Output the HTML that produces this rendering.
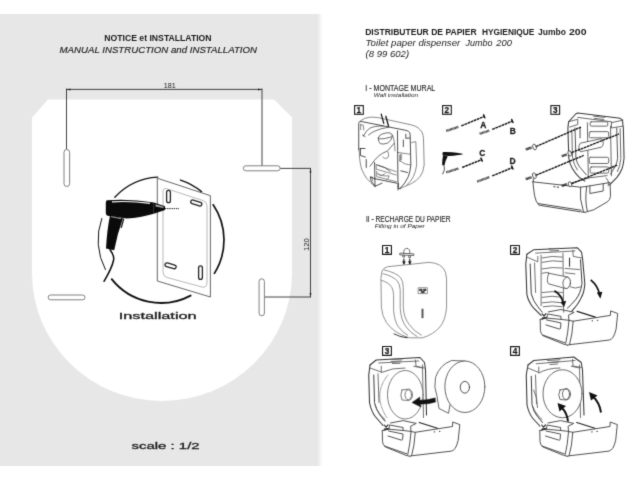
<!DOCTYPE html>
<html><head><meta charset="utf-8">
<style>
html,body{margin:0;padding:0;background:#fff;width:640px;height:480px;overflow:hidden}
svg{display:block;position:absolute;left:0;top:0}
text{font-family:"Liberation Sans",sans-serif;fill:#1a1a1a}
</style></head><body>
<svg width="640" height="480" viewBox="0 0 640 480">
<defs><g id="tray" fill="none" stroke-linecap="round" stroke-linejoin="round">
<g stroke="#484848" stroke-width="0.95">
<path d="M382.3,430.5 L382.5,441.7 Q383,445 385.3,446.9 L405.9,455.3 L409.7,456.25" fill="#fff"/>
<path d="M384.4,446 L406.9,453.9"/>
<path d="M382.3,430.5 L389,429.2 L403.1,430.5 L411.1,431.4"/>
<path d="M411.1,431.4 Q410,445 407.8,454.4 M415.3,432.3 Q414.5,446 411.6,455.8"/>
<path d="M411,431.5 L415.3,432.3 L452.5,426.5 L452.7,422 L459.8,424.6 L458.2,440.2 Q457,445.5 455.1,448.5 Q453.5,450.3 451.5,451.1 L411.6,455.8 L409.7,456.25"/>
<path d="M388.5,431 L403,434 L402.6,439.6 Q402.3,440.4 401,440 L388,436"/>
<path d="M390.5,423 L403.1,420.6 L416.25,423.4 L410.6,426.25 L411,431"/>
<path d="M389,429.2 L389.5,425 L403.1,427.5 L403.1,430.5"/>
</g>
<path d="M419.2,422.5 L437.4,428.2" stroke="#222" stroke-width="1.2"/>
<path d="M384.2,425 L387.5,428.8 M385,428.5 L388,424.8 M384,430 L388.5,428.6" stroke="#222" stroke-width="1.1"/>
<path d="M433.8,431.9 h1.3 M439,431.4 h1.3" stroke="#111" stroke-width="0.9" stroke-linecap="butt"/>
</g><filter id="sf" x="-2%" y="-2%" width="104%" height="104%" color-interpolation-filters="sRGB"><feConvolveMatrix order="3" kernelMatrix="1 6 1 6 36 6 1 6 1" divisor="64" edgeMode="duplicate" preserveAlpha="false"/></filter><linearGradient id="ge" x1="0" x2="1" y1="0" y2="0"><stop offset="0" stop-color="#e7e7e7"/><stop offset="1" stop-color="#ffffff"/></linearGradient><filter id="bl" x="-5%" y="-5%" width="110%" height="110%"><feGaussianBlur stdDeviation="0.9"/></filter></defs>
<!-- LEFT PANEL -->
<g id="left" filter="url(#sf)">
<rect x="-6" y="14" width="324" height="452" fill="#e7e7e7"/><rect x="317.5" y="14" width="5" height="452" fill="url(#ge)"/>
<path d="M48,99.5 L274,99.5 L292,117.5 L292,273 A130,128 0 0 1 32,273 L32,117.5 Z" fill="#fff"/>
<!-- text -->
<text x="104.3" y="41.4" font-size="8.6" font-weight="bold" textLength="107.3" lengthAdjust="spacingAndGlyphs">NOTICE et INSTALLATION</text>
<text x="59.5" y="52.6" font-size="9.1" font-style="italic" stroke="#1a1a1a" stroke-width="0.15" textLength="197.5" lengthAdjust="spacingAndGlyphs">MANUAL INSTRUCTION and INSTALLATION</text>

<!-- dimension lines -->
<g stroke="#2e2e2e" stroke-width="0.9" fill="none">
<path d="M66.5,88.5 V149"/><path d="M262,88.5 V166"/><path d="M66.5,89.4 H262"/>
<path d="M280,168.4 H311"/><path d="M264.5,297 H311"/><path d="M310.5,168.4 V297"/>
</g>
<g fill="#222"><path d="M66.5,89.4 l4,-1 v2z"/><path d="M262,89.4 l-4,-1 v2z"/><path d="M310.5,168.4 l-1,4 h2z"/><path d="M310.5,297 l-1,-4 h2z"/></g>
<text x="163.7" y="88" font-size="6.8" textLength="12" lengthAdjust="spacingAndGlyphs" fill="#222">181</text>
<text transform="translate(309,251) rotate(-90)" font-size="6.8" textLength="12.8" lengthAdjust="spacingAndGlyphs" fill="#222">120</text>
<!-- slots -->
<g stroke="#707070" stroke-width="0.9" fill="#fff">
<rect x="64" y="149.5" width="5.6" height="37" rx="2.8"/>
<rect x="243.3" y="165.8" width="36.8" height="5" rx="2.5"/>
<rect x="48.2" y="295" width="36.8" height="4.8" rx="2.4"/>
<rect x="259.1" y="278.8" width="5.3" height="37" rx="2.65"/>
</g>
<!-- installation pictogram -->
<g id="picto">
<path d="M105.4,269.6 A63,63 0 0 1 101.8,218.5" stroke="#111" stroke-width="1.0" fill="none" stroke-linecap="round"/>
<path d="M190.6,295.6 A63,63 0 0 1 111.7,279.2" stroke="#111" stroke-width="1.9" fill="none" stroke-linecap="round"/>
<path d="M114.8,197.2 A63,63 0 0 1 157.7,177.1" stroke="#111" stroke-width="1.3" fill="none" stroke-linecap="round"/>
<path d="M180.5,180.1 A63,63 0 0 1 201.5,191.7" stroke="#111" stroke-width="1.5" fill="none" stroke-linecap="round"/>
<path d="M213.2,204.8 A63,63 0 0 1 214.4,273.4" stroke="#111" stroke-width="1.7" fill="none" stroke-linecap="round"/>
<!-- plate -->
<path d="M157.3,178.2 L210.4,195.7 L210.4,297 L157.3,281 Z" fill="#fff" stroke="#555" stroke-width="0.9"/>
<path d="M167,188.8 L203,200.6 Q207,202 207,206 L207,282 Q207,288.5 202,287 L167,277.5 Q163,276.3 163,272 L163,191.5 Q163,187.5 167,188.8 Z" fill="none" stroke="#9a9a9a" stroke-width="0.7"/>
<g fill="#fff" stroke="#222" stroke-width="1.3">
<rect x="166.6" y="190.4" width="3.8" height="12.2" rx="1.9"/>
<rect x="198.6" y="265.8" width="3.8" height="13.6" rx="1.9"/>
<rect x="-5.7" y="-1.9" width="11.4" height="3.8" rx="1.9" transform="translate(196.3,203) rotate(18)"/>
<rect x="-5.7" y="-1.9" width="11.4" height="3.8" rx="1.9" transform="translate(170.6,265.8) rotate(16)"/>
</g>
<!-- drill -->
<path d="M107,200.2 Q106,200 105.8,203 L105.8,213 Q106,215.8 109,216 L127,218.4 Q140,218 153.8,213.8 L153.8,202.5 Q130,198.5 107,200.2 Z" fill="#0a0a0a"/>
<path d="M110,215.5 L123,218.2 Q117.5,233 114.2,250.3 L106,248.4 Q107,230 110,215.5 Z" fill="#0a0a0a"/>
<path d="M123.8,218.6 L121.2,227.8" stroke="#0a0a0a" stroke-width="1.2" fill="none"/>
<path d="M153.8,202.5 L165,206.3 L165,210 L153.8,213.8 Z" fill="#0a0a0a"/>
<path d="M155.5,204.3 L163.5,206.8 L163.5,208 L155.5,206.6 Z" fill="#aaa"/>
<path d="M112,201.9 Q130,200.7 150,203.4" stroke="#fff" stroke-width="1.1" fill="none"/>
<path d="M111,216.6 L121,218.7" stroke="#fff" stroke-width="0.6" fill="none"/>
<path d="M165,208.6 H179" stroke="#111" stroke-width="1" stroke-dasharray="1.3,0.9" fill="none"/>
<path d="M110,249.5 Q114.5,256 113.6,260 Q112,268 104,281.3" stroke="#0a0a0a" stroke-width="1.5" fill="none" stroke-linecap="round"/>
</g>
<text x="118.7" y="319.3" font-size="9.8" textLength="78" lengthAdjust="spacingAndGlyphs" fill="#1a1a1a" stroke="#1a1a1a" stroke-width="0.3">Installation</text>
<text x="131.6" y="448.7" font-size="9.8" textLength="68" lengthAdjust="spacingAndGlyphs" fill="#1a1a1a" stroke="#1a1a1a" stroke-width="0.3">scale : 1/2</text>
</g>
<!-- RIGHT PANEL -->
<g id="right" filter="url(#sf)">
<g font-size="9.3" font-weight="bold" lengthAdjust="spacingAndGlyphs">
<text x="365.2" y="34.6" textLength="111.4" lengthAdjust="spacingAndGlyphs">DISTRIBUTEUR DE PAPIER</text>
<text x="481.9" y="34.6" textLength="52.5" lengthAdjust="spacingAndGlyphs">HYGIENIQUE</text>
<text x="538" y="34.6" textLength="27.9" lengthAdjust="spacingAndGlyphs">Jumbo</text>
<text x="569" y="34.6" textLength="17.5" lengthAdjust="spacingAndGlyphs">200</text>
</g>
<g font-size="9.8" font-style="italic">
<text x="365.6" y="45.9" textLength="94.7" lengthAdjust="spacingAndGlyphs">Toilet paper dispenser</text>
<text x="465.6" y="45.9" textLength="27" lengthAdjust="spacingAndGlyphs">Jumbo</text>
<text x="496.3" y="45.9" textLength="15.6" lengthAdjust="spacingAndGlyphs">200</text>
</g>
<text x="365.6" y="57" font-size="9.8" font-style="italic" textLength="43.5" lengthAdjust="spacingAndGlyphs">(8 99 602)</text>
<text x="365.3" y="90.7" font-size="8.5" stroke="#1a1a1a" stroke-width="0.12" textLength="70" lengthAdjust="spacingAndGlyphs">I - MONTAGE MURAL</text>
<text x="373.7" y="96.7" font-size="5.7" font-style="italic" textLength="44.5" lengthAdjust="spacingAndGlyphs">Wall installation</text>

<!-- boxes with numbers -->
<g id="boxes" fill="#fff" stroke="#1a1a1a" stroke-width="1.1">
<rect x="354.6" y="105.6" width="8.7" height="8.7"/>
<rect x="442.6" y="105.6" width="8.7" height="8.7"/>
</g>
<g font-size="8.2" font-weight="bold" fill="#111" stroke="#111" stroke-width="0.25" text-anchor="middle">
<text x="358.9" y="112.85">1</text><text x="446.9" y="112.85">2</text>
</g>
<!-- FIG I-1 : zoom12 coords, origin (350,110) -->
<g id="fig11" transform="translate(350,110) scale(0.083333)" fill="none" stroke-linecap="round" stroke-linejoin="round">
<g stroke="#606060" stroke-width="9">
<path d="M130,125 Q170,92 250,85 L330,90 L740,180 Q830,200 868,275 Q880,310 882,340 L890,660 Q880,750 840,800 Q800,850 740,882 L600,942"/>
<path d="M110,480 L115,580 Q122,650 140,710 Q165,770 200,820 Q240,865 300,920"/>
<path d="M128,170 L128,235 M130,178 L160,182 L165,240"/>
<path d="M740,390 L790,380 L800,660 Q790,740 760,800 Q730,860 680,902"/>
<path d="M510,300 Q535,350 540,490"/>
<path d="M395,565 Q430,600 460,565 Q470,530 455,500"/>
<path d="M315,655 L555,740 M315,655 L315,710 L555,780 M320,735 L320,800 L555,860"/>
<path d="M330,760 Q380,800 470,790 Q460,830 440,840 M340,770 L370,790 L420,765"/>
<path d="M262,800 L272,850 M576,510 L720,530"/>
<path d="M600,610 Q660,660 724,660"/>
</g>
<path d="M615,520 L615,600" stroke="#aaa" stroke-width="22" stroke-linecap="butt"/>
<g stroke="#2a2a2a" stroke-width="10">
<path d="M105,480 L105,165 Q105,145 120,135 L670,244 Q705,252 716,270 L722,300 L730,660 Q722,740 700,800 Q665,880 600,942"/>
<path d="M670,290 L670,340 L716,336"/>
<path d="M640,360 L640,440 M600,540 L600,612 M610,730 L690,750 M580,880 L580,940 L604,944"/>
<path d="M570,250 L576,960"/>
<path d="M120,462 L180,462 M125,462 L125,545 L185,565 M195,595 L195,690"/>
<path d="M300,825 L560,878"/>
<path d="M295,630 L300,915"/>
<path d="M245,805 L300,825 M245,805 L252,850 L300,915 L385,878"/>
</g>
<g stroke="#222" stroke-width="8">
<path d="M160,312 Q190,250 235,220 Q290,190 400,192"/>
<path d="M222,300 Q260,270 300,252 Q360,222 470,205"/>
<path d="M150,300 L182,320"/>
<path d="M340,335 Q350,300 385,288 Q440,268 480,275 Q512,285 508,320 Q500,365 450,398 Q400,415 365,405 Q335,385 340,335 Z"/>
<path d="M352,348 Q420,350 500,322"/>
<path d="M460,480 L530,400"/>
<path d="M450,490 Q380,520 340,555 Q290,600 240,675"/>
<path d="M335,662 Q420,680 485,738"/>
</g>
<g stroke="#111" stroke-width="15">
<path d="M375,50 L405,160 M430,75 L462,192"/>
</g>
</g>
<!-- FIG I-2 : region (435,100) scale 5.333 -->
<g id="fig12" transform="translate(435,100) scale(0.1875)" fill="none">
<g stroke="#3a3a3a" stroke-width="12.5" stroke-dasharray="5,2">
<path d="M60,165 L126,143"/><path d="M238,180 L291,163"/><path d="M60,386 L126,365"/><path d="M225,435 L291,411"/>
</g>
<g stroke="#111" stroke-width="7.5" stroke-dasharray="15,3">
<path d="M140,138 L262,88"/><path d="M305,157 L412,113"/><path d="M145,360 L248,319"/><path d="M305,405 L412,361"/>
</g>
<g stroke="#111" stroke-width="8" stroke-linecap="round">
<path d="M259,79 L266,95"/><path d="M409,104 L416,120"/><path d="M245,310 L252,326"/><path d="M409,352 L416,368"/>
</g>
<g font-size="45" font-weight="bold" fill="#1a1a1a" stroke="#1a1a1a" stroke-width="1.4" text-anchor="middle" style="font-family:'Liberation Sans',sans-serif">
<text x="258" y="147">A</text><text x="415" y="180">B</text><text x="252" y="297">C</text><text x="414" y="342">D</text>
</g>
<!-- mini drill -->
<g fill="#111" stroke="none">
<path d="M44,277 Q40,278 40,284 L41,296 L75,298 Q100,298 116,295 L147,290 L147,287 L116,281 Q90,276 44,277 Z"/>
<path d="M43,295 L68,300 Q56,320 50,351 L38,347 Q38,320 43,295 Z"/>
</g>
<path d="M47,351 Q56,368 40,396" stroke="#111" stroke-width="4"/>
</g>

<!-- FIG I-3 : region (520,100) scale 4.3636 -->
<g fill="#fff" stroke="#1a1a1a" stroke-width="1.1"><rect x="550.9" y="105.6" width="8.7" height="8.7"/></g>
<text x="555.2" y="112.85" font-size="8.2" font-weight="bold" fill="#111" stroke="#111" stroke-width="0.25" text-anchor="middle">3</text>
<g id="fig13" transform="translate(520,100) scale(0.22917)" fill="none" stroke-linecap="round" stroke-linejoin="round">
<g stroke="#5a5a5a" stroke-width="4">
<path stroke="#383838" stroke-width="4.6" d="M212,95 L244,60 L252,57 L437,80 L447,88 L449,107 L451,122 L454,254 Q452,280 445,300 Q436,322 422,339 L391,370"/>
<path stroke="#383838" stroke-width="4.6" d="M212,95 L209,122 L213,254 Q217,280 229,300 Q242,322 260,339 L283,354"/>
<path d="M212,95 L252,84 L252,107 L217,118 M252,76 L399,95 M399,99 L449,88 M399,99 L399,122 L449,114"/>
<path d="M294,99 L298,331 M395,114 L399,331"/>
<rect x="306" y="95" width="77" height="19" rx="5"/>
<rect x="302" y="138" width="85" height="27" rx="6"/>
<rect x="302" y="250" width="85" height="27" rx="6"/>
<rect x="306" y="292" width="81" height="27" rx="6"/>
<path stroke="#444" d="M240,122 L244,254 Q248,275 260,292 L290,327"/>
<path stroke="#444" d="M422,122 L426,254 Q424,275 414,292 L395,323"/>
<path d="M226,130 L229,250 Q234,282 250,305 M437,125 L440,255 Q437,290 425,312"/>
<path d="M262,190 Q250,208 264,226 L355,206 Q372,190 356,170 Z" fill="#fff"/>
<path d="M320,70 L370,76 M325,80 L365,85"/>
<path d="M375,340 Q390,350 385,375 M300,340 L380,330"/>
</g>
<g stroke="#484848" stroke-width="4.2">
<path d="M56,357 L63,415 Q68,445 83,459 L264,488 L284,490" fill="#fff"/>
<path d="M80,452 L267,481"/>
<path d="M56,357 L264,380.5 L291,377 L393,360 L395,421 Q393,437 380,445 L322,479 L294,487 L284,490"/>
<path d="M264,380.5 Q258,430 277,488 M291,377 Q282,440 294,486"/>
<path d="M305,374 L305,408 L363,397 L363,367"/>
<path d="M58,345 L58,357 M225,362 L300,340 M262,120 L262,165"/>
</g>
<g stroke="#111" stroke-width="6" stroke-dasharray="12,2.5" stroke-linecap="butt">
<path d="M70,203 L266,118"/><path d="M225,230 L432,148"/><path d="M70,328 L278,242"/><path d="M226,365 L424,284"/>
</g>
<g stroke="#222" stroke-width="11" stroke-dasharray="4,1.5" stroke-linecap="butt">
<path d="M25,215.5 L52,207.5"/><path d="M182,245 L205,238"/><path d="M25,345 L52,337"/><path d="M182,374.5 L205,367.5"/>
</g>
<g stroke="#3a3a3a" stroke-width="3.5" fill="#fff">
<ellipse cx="63.5" cy="205" rx="7.5" ry="13" transform="rotate(-18 63.5 205)"/>
<ellipse cx="62.7" cy="330.4" rx="7.5" ry="13" transform="rotate(-18 62.7 330.4)"/>
<ellipse cx="217" cy="233" rx="7.5" ry="12" transform="rotate(-18 217 233)"/>
<ellipse cx="218" cy="367.5" rx="7.5" ry="11" transform="rotate(-18 218 367.5)"/>
</g>
<path d="M148,378 L153,379 M163,380 L168,381" stroke="#111" stroke-width="4"/>
</g>

<!-- SECTION II -->
<text x="365.9" y="222" font-size="8.5" stroke="#1a1a1a" stroke-width="0.12" textLength="84.7" lengthAdjust="spacingAndGlyphs">II - RECHARGE DU PAPIER</text>
<text x="374.7" y="227.9" font-size="5.7" font-style="italic" textLength="50" lengthAdjust="spacingAndGlyphs">Filling in of Paper</text>
<!-- FIG II-1 : region (370,235) scale 4.5714 -->
<g id="fig21" transform="translate(370,235) scale(0.21875)" fill="none" stroke-linecap="round" stroke-linejoin="round">
<rect x="57.4" y="48.2" width="40.5" height="40.5" fill="#fff" stroke="#1a1a1a" stroke-width="5.2"/>
<g stroke="#808080" stroke-width="4">
<path d="M55,165 Q60,150 80,145 L270,125 Q330,128 345,170 L350,200 L350,330 Q345,390 320,420 Q290,455 240,470 L180,470 Q110,450 75,400 Q55,370 52,330 L50,200 Z"/>
<path d="M65,160 Q120,172 140,195 Q152,210 152,240 L152,330 Q155,380 180,410 Q200,440 235,458"/>
<path d="M60,177 Q105,188 125,210 Q137,225 138,250 L138,335 Q142,390 165,420 Q185,448 215,464"/>
<path d="M52,207 Q88,218 100,240 Q107,255 108,275 L108,345 Q112,395 130,420 Q148,445 172,458"/>
<rect x="222" y="241" width="40" height="27"/>
</g>
<g stroke="#333" stroke-width="4">
<path d="M228,248 h10 v6 h-10z M246,248 h10 v6 h-10z M236,258 h12 v5 h-12z" fill="#333"/>
</g>
<path d="M240,337 L240,380" stroke="#555" stroke-width="9" stroke-linecap="butt"/>
<g stroke="#444" stroke-width="3.6">
<path d="M154,84 Q152,62 168,61 Q184,62 182,84"/>
<path d="M138,83 L200,86 L200,94 L138,91 Z"/>
<path d="M150,92 L150,101 L158,101 L158,93 M177,94 L177,103 L185,103 L185,95"/>
</g>
<g stroke="#111" stroke-width="5" fill="#111">
<path d="M155,110 L155,128 M182,110 L182,128"/>
<path d="M149,122 L155,135 L161,122 Z M176,122 L182,135 L188,122 Z" stroke-width="2"/>
</g>
<path d="M110,452 Q140,468 170,470" stroke="#333" stroke-width="5"/>
</g>
<text x="387" y="252.9" font-size="8.2" font-weight="bold" fill="#111" stroke="#111" stroke-width="0.25" text-anchor="middle">1</text>

<!-- FIG II-2 : region (505,240) scale 4.5714 -->
<g id="fig22" transform="translate(505,240) scale(0.21875)" fill="none" stroke-linecap="round" stroke-linejoin="round">
<rect x="25.4" y="24.9" width="40.5" height="40.5" fill="#fff" stroke="#1a1a1a" stroke-width="5.2"/>
<g stroke="#5c5c5c" stroke-width="4">
<path stroke="#333" stroke-width="4.8" d="M100,65 L130,45 L330,35 L350,55 L355,90 L365,200 Q362,240 350,260 Q335,295 305,325"/>
<path stroke="#333" stroke-width="4.8" d="M100,65 L95,110 L100,250 Q108,285 130,310 L165,345"/>
<path d="M140,60 L320,50 M100,78 L150,100 L150,75 M310,47 L312,75 L350,82"/>
<path stroke="#3a3a3a" stroke-width="4.5" d="M115,110 L120,245 Q128,280 150,305 L170,330"/>
<path d="M165,70 L165,300 M265,60 L268,330 M135,105 L140,240"/>
<path d="M170,82 Q215,70 262,78 M170,102 Q215,90 262,98 M170,132 Q215,122 262,128 M170,152 Q190,146 200,150 M170,240 Q215,232 262,240 M170,262 Q215,252 262,262 M170,287 Q215,278 262,287 M175,305 Q215,297 262,305"/>
<path stroke="#3a3a3a" stroke-width="4.5" d="M345,90 L352,200 Q345,245 325,270 Q305,295 285,312"/>
<path d="M275,130 L340,135 M275,150 L320,155 M300,215 Q320,225 345,215"/>
<path d="M200,40 L250,38 M205,50 L245,48"/>
</g>
<g stroke="#555" stroke-width="4" fill="#fff">
<path d="M200,152 L290,170 Q302,185 298,205 Q292,222 278,222 L198,200 Q188,185 200,152 Z"/>
<ellipse cx="282" cy="196" rx="17" ry="26" transform="rotate(8 282 196)"/>
</g>
<g stroke="#333" stroke-width="5"><path d="M295,82 L295,120"/></g>

<g stroke="#111" stroke-width="8" stroke-linecap="butt">
<path d="M392,182 Q425,210 432,248"/>
<path d="M226,232 Q262,255 266,290"/>
</g>
<g fill="#111" stroke="none">
<path d="M420,240 L445,236 L436,268 Z"/>
<path d="M254,284 L280,278 L270,306 Z"/>
</g>
</g>
<text x="515" y="252.9" font-size="8.2" font-weight="bold" fill="#111" stroke="#111" stroke-width="0.25" text-anchor="middle">2</text>

<use href="#tray"/>
<use href="#tray" transform="translate(157.5,0)"/>
<use href="#tray" transform="translate(157.9,-111.1)"/>
<!-- FIG II-3 : region (360,340) scale 4 -->
<g id="fig23" transform="translate(360,340) scale(0.25)" fill="none" stroke-linecap="round" stroke-linejoin="round">
<rect x="90.2" y="25.8" width="35.4" height="35.4" fill="#fff" stroke="#1a1a1a" stroke-width="4.6"/>
<g stroke="#5c5c5c" stroke-width="3.6">
<path stroke="#333" stroke-width="4.2" d="M40,100 L65,80 L240,70 L258,90 L262,120 L266,300"/>
<path stroke="#333" stroke-width="4.2" d="M40,100 L35,140 L38,250 Q45,285 60,305 L92,342"/>
<path d="M75,92 L235,84 M40,112 L85,128 L85,105 M222,80 L224,105 L258,112"/>
<path stroke="#3a3a3a" stroke-width="4" d="M55,140 L58,250 Q64,280 80,300 L100,325"/>
<path d="M72,135 L76,250 M250,100 L254,310"/>
<path d="M120,78 L170,76 M125,86 L165,84 M130,94 L160,93"/>
<path d="M85,130 Q130,110 180,112 M215,105 L250,112"/>
<path d="M60,260 Q75,300 100,318"/>
</g>
<g stroke="#666" stroke-width="3.4">
<ellipse cx="181" cy="219" rx="71" ry="97" fill="#fff"/>
</g>
<g stroke="#777" stroke-width="3" stroke-dasharray="7,4">
<path d="M112,140 Q48,218 108,312"/>
</g>
<g stroke="#666" stroke-width="3.5" fill="#fff">
<path d="M168,200 L198,196 Q212,205 210,225 Q206,240 195,242 L168,240 Q158,220 168,200 Z"/>
<ellipse cx="193" cy="219" rx="13" ry="20"/>
</g>
<!-- big roll -->
<g stroke="#555" stroke-width="3.6">
<path d="M420,84 L366,82 Q318,100 302,150 Q294,190 308,225 L316,274 L354,293 L360,259" fill="#fff"/>
<ellipse cx="419.5" cy="187" rx="80" ry="103" fill="#fff"/>
<ellipse cx="419.5" cy="189" rx="18.5" ry="23.5" stroke="#3a3a3a"/>
</g>
<!-- tray -->

<path d="M300,232 Q262,243 238,240 L240,228 L208,250 L244,268 L240,256 Q275,258 302,248 Z" fill="#111" stroke="#111" stroke-width="2"/>
</g>
<text x="387" y="353.9" font-size="8.2" font-weight="bold" fill="#111" stroke="#111" stroke-width="0.25" text-anchor="middle">3</text>

<!-- FIG II-4 : region (500,340) scale 4 -->
<g id="fig24" transform="translate(500,340) scale(0.25)" fill="none" stroke-linecap="round" stroke-linejoin="round">
<rect x="42.2" y="26.2" width="35.4" height="35.4" fill="#fff" stroke="#1a1a1a" stroke-width="4.6"/>
<g stroke="#5c5c5c" stroke-width="3.6">
<path stroke="#333" stroke-width="4.2" d="M112,100 L135,82 L295,68 L325,90 L330,120 L336,300"/>
<path stroke="#333" stroke-width="4.2" d="M112,100 L105,140 L108,260 Q115,292 130,312 L160,345"/>
<path d="M145,95 L300,82 M112,112 L155,130 L155,108 M290,78 L292,104 L326,110"/>
<path stroke="#3a3a3a" stroke-width="4" d="M125,145 L128,258 Q134,288 150,306 L170,330"/>
<path d="M142,140 L146,255 M318,100 L322,310"/>
<path d="M190,82 L240,79 M195,90 L235,87 M200,98 L230,96"/>
<path d="M155,132 Q190,112 240,112 M285,105 L318,112"/>
<path d="M130,265 Q145,300 168,318 M135,200 Q150,230 150,270"/>
</g>
<g stroke="#585858" stroke-width="3.6">
<ellipse cx="250" cy="215" rx="78" ry="96" fill="#fff"/>
<path d="M240,200 L268,194 Q284,202 282,222 Q278,238 266,240 L240,238 Q230,220 240,200 Z" fill="#fff"/>
<ellipse cx="264" cy="217" rx="14" ry="21"/>
</g>

<g stroke="#111" stroke-width="8" stroke-linecap="butt">
<path d="M404,290 Q398,250 372,226"/>
<path d="M272,326 Q268,290 246,270"/>
</g>
<g fill="#111" stroke="none">
<path d="M356,208 L390,222 L364,242 Z"/>
<path d="M230,252 L264,264 L238,286 Z"/>
</g>
</g>
<text x="515" y="353.9" font-size="8.2" font-weight="bold" fill="#111" stroke="#111" stroke-width="0.25" text-anchor="middle">4</text>
</g>
</svg>
</body></html>
